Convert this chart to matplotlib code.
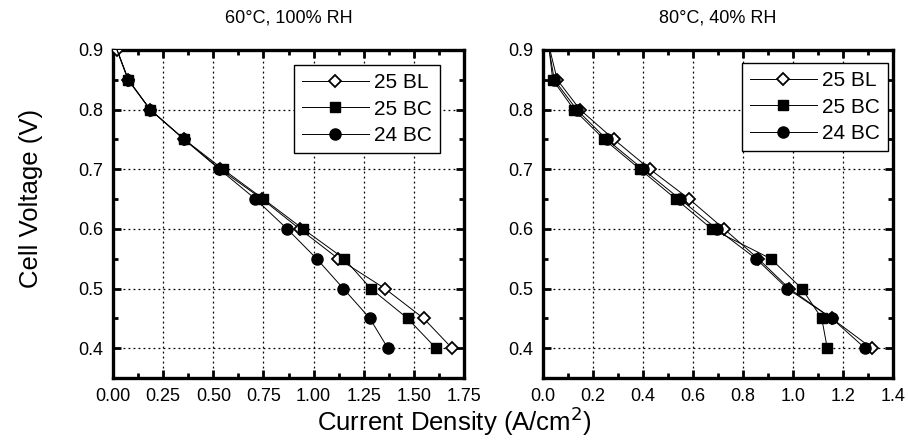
import matplotlib.pyplot as plt
from matplotlib.ticker import MultipleLocator, FormatStrFormatter

plt.rcParams['font.family'] = ['Liberation Sans', 'DejaVu Sans']

voltage = [0.9, 0.85, 0.8, 0.75, 0.7, 0.65, 0.6, 0.55, 0.5, 0.45, 0.4]

# 60C, 100% RH
bl25_60 = [0.02, 0.075, 0.185, 0.355, 0.535, 0.743, 0.93, 1.123, 1.355, 1.548, 1.69]
bc25_60 = [0.02, 0.075, 0.185, 0.355, 0.548, 0.75, 0.947, 1.152, 1.285, 1.468, 1.61]
bc24_60 = [0.02, 0.077, 0.185, 0.355, 0.53, 0.71, 0.868, 1.015, 1.148, 1.28, 1.37]

# 80C, 40% RH
bl25_80 = [0.028, 0.057, 0.148, 0.284, 0.428, 0.585, 0.724, 0.861, 0.985, 1.155, 1.315]
bc25_80 = [0.025, 0.039, 0.124, 0.245, 0.388, 0.532, 0.675, 0.911, 1.035, 1.115, 1.137]
bc24_80 = [0.025, 0.045, 0.135, 0.255, 0.4, 0.548, 0.695, 0.852, 0.977, 1.155, 1.288]

labels = ['25 BL', '25 BC', '24 BC']

fig = plt.figure(figsize=(9.08, 4.41), dpi=100)
ax1 = fig.add_axes([0.1245, 0.1429, 0.3866, 0.7438])
ax2 = fig.add_axes([0.598, 0.1429, 0.3855, 0.7438])


def draw(ax, bl, bc, cb, title, xmax, xmaj, fmt, first_mark, leg_anchor):
    ax.plot(bl, voltage, color='black', lw=0.7, marker='D', ms=6.5,
            mfc='white', mec='black', mew=1.3, label=labels[0], zorder=3,
            markevery=slice(first_mark, None))
    ax.plot(bc, voltage, color='black', lw=0.7, marker='s', ms=7.3,
            mfc='black', mec='black', label=labels[1], zorder=3,
            markevery=slice(1, None))
    ax.plot(cb, voltage, color='black', lw=0.7, marker='o', ms=8,
            mfc='black', mec='black', label=labels[2], zorder=3,
            markevery=slice(1, None))
    ax.set_xlim(0, xmax)
    ax.set_ylim(0.35, 0.9)
    ax.xaxis.set_major_locator(MultipleLocator(xmaj))
    ax.xaxis.set_minor_locator(MultipleLocator(xmaj / 2))
    ax.yaxis.set_major_locator(MultipleLocator(0.1))
    ax.yaxis.set_minor_locator(MultipleLocator(0.05))
    ax.xaxis.set_major_formatter(FormatStrFormatter(fmt))
    ax.yaxis.set_major_formatter(FormatStrFormatter('%.1f'))
    ax.tick_params(which='both', direction='in', top=True, right=True,
                   labelsize=13, pad=7)
    ax.tick_params(which='major', length=6, width=2)
    ax.tick_params(which='minor', length=3.5, width=2)
    for s in ax.spines.values():
        s.set_linewidth(2.4)
    ax.grid(True, which='major', color='black', linestyle=(0, (1.5, 2.5)), lw=0.9)
    ax.set_title(title, fontsize=13, pad=20)
    leg = ax.legend(loc='upper right', bbox_to_anchor=leg_anchor, fontsize=15,
                    handlelength=3.2, fancybox=False, framealpha=1,
                    edgecolor='black', borderpad=0.4, labelspacing=0.35,
                    handletextpad=0.25, borderaxespad=0)
    leg.get_frame().set_linewidth(1.0)


draw(ax1, bl25_60, bc25_60, bc24_60, '60°C, 100% RH', 1.75, 0.25, '%.2f', 0, (0.932, 0.954))
draw(ax2, bl25_80, bc25_80, bc24_80, '80°C, 40% RH', 1.4, 0.2, '%.1f', 1, (0.986, 0.96))

fig.text(0.034, 0.55, 'Cell Voltage (V)', fontsize=18.5, rotation=90, ha='center', va='center')
fig.text(0.5, 0.022, 'Current Density (A/cm$^2$)', fontsize=18.5, ha='center')

fig.savefig('out.png', dpi=100)
